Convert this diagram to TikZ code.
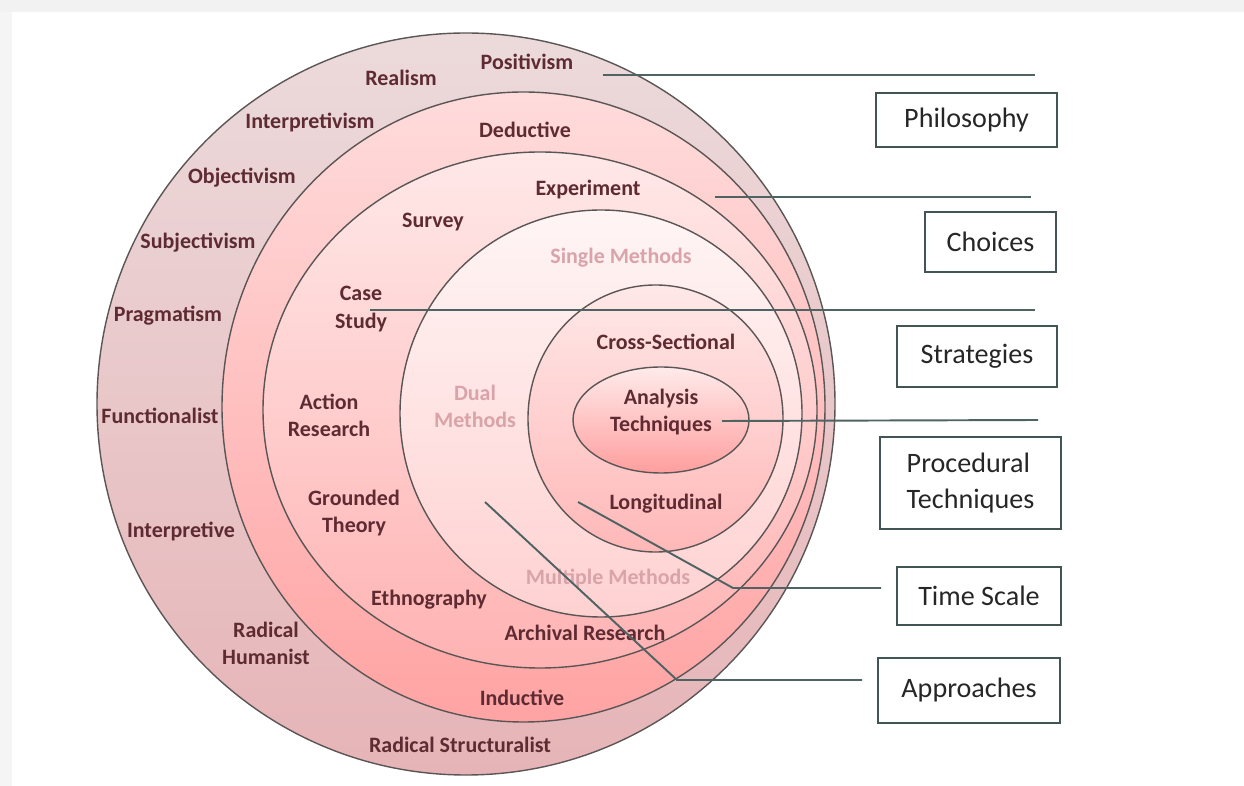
\documentclass[tikz,border=0pt]{standalone}
\usepackage{fontspec}
\setmainfont{Carlito}
\definecolor{ringtxt}{HTML}{5E2B33}
\definecolor{methtxt}{HTML}{D9A3AA}
\definecolor{edge}{HTML}{5B5656}
\definecolor{leadcol}{HTML}{4F6363}
\definecolor{philtop}{HTML}{ECDADB}
\definecolor{philbot}{HTML}{E6B4B7}

\begin{document}
\begin{tikzpicture}[x=0.02cm,y=-0.02cm,
    ring/.style={draw=edge,line width=0.8pt},
    lbl/.style={text=ringtxt,font=\bfseries\fontsize{12.5}{15.5}\selectfont,align=center,inner sep=0pt},
    methlbl/.style={lbl,text=methtxt},
    layerbox/.style={draw=leadcol!85!black,line width=1pt,inner sep=0pt,font=\fontsize{16}{21}\selectfont,text=black!85},
    leader/.style={draw=leadcol,line width=1.1pt}]
    \useasboundingbox(0,0)rectangle(1244,786);
    \fill[black!5](0,0)rectangle(1244,12);
    \fill[black!4](0,12)rectangle(12,786);

    % the onion, from outside in
    \draw[ring,top color=philtop,bottom color=philbot](466,404)ellipse[x radius=369,y radius=371];
    \draw[ring,top color=red!14,bottom color=red!36](523.5,407)ellipse[x radius=301.5,y radius=315];
    \draw[ring,top color=red!9,bottom color=red!30](540,410)ellipse[x radius=277,y radius=258];
    \draw[ring,top color=red!4,bottom color=red!18](601,413.5)ellipse[x radius=201,y radius=203.5];
    \draw[ring,top color=red!9,bottom color=red!28](655.5,418.5)ellipse[x radius=127.5,y radius=133.5];
    \draw[ring,top color=red!8,bottom color=red!38](661,420)ellipse[x radius=88,y radius=53];

    % philosophy ring
    \node[lbl](positivism)at(527,62){Positivism};
    \node[lbl](realism)at(401,78){Realism};
    \node[lbl](interpretivism)at(310,123){Interpretivism};
    \node[lbl](objectivism)at(242,178){Objectivism};
    \node[lbl](subjectivism)at(198,243){Subjectivism};
    \node[lbl](pragmatism)at(168,316){Pragmatism};
    \node[lbl](functionalist)at(160,416){Functionalist};
    \node[lbl](interpretive)at(181,532){Interpretive};
    \node[lbl](humanist)at(266,643){Radical\\Humanist};
    \node[lbl](structuralist)at(460,745){Radical Structuralist};
    % approaches
    \node[lbl](deductive)at(525,130){Deductive};
    \node[lbl](inductive)at(522,698){Inductive};
    % strategies
    \node[lbl](experiment)at(588,190){Experiment};
    \node[lbl](survey)at(433,222){Survey};
    \node[lbl](casestudy)at(361,309){Case\\Study};
    \node[lbl](action)at(329,415){Action\\Research};
    \node[lbl](grounded)at(354,513){Grounded\\Theory};
    \node[lbl](ethno)at(429,600){Ethnography};
    \node[lbl](archival)at(585,633){Archival Research};
    % choices
    \node[methlbl](single)at(621,258){Single Methods};
    \node[methlbl](dual)at(475,406){Dual\\Methods};
    \node[methlbl](multiple)at(608,579){Multiple Methods};
    % time horizons and core
    \node[lbl](cross)at(666,342){Cross-Sectional};
    \node[lbl](analysis)at(661,412){Analysis\\Techniques};
    \node[lbl](longit)at(666,504){Longitudinal};

    % layer names
    \node[layerbox,minimum width=3.62cm,minimum height=1.08cm](philo)at(966.5,120){Philosophy};
    \node[layerbox,minimum width=2.62cm,minimum height=1.2cm](choices)at(990.5,242){Choices};
    \node[layerbox,minimum width=3.2cm,minimum height=1.22cm](strat)at(977,356.5){Strategies};
    \node[layerbox,minimum width=3.62cm,minimum height=1.84cm,align=left](proc)at(970.5,483){Procedural\\Techniques};
    \node[layerbox,minimum width=3.28cm,minimum height=1.16cm](time)at(979,596){Time Scale};
    \node[layerbox,minimum width=3.64cm,minimum height=1.3cm](appr)at(969,690.5){Approaches};

    % leader lines
    \coordinate(philo-a)at(603,75);   \coordinate(philo-b)at(1035,75);
    \coordinate(choice-a)at(715,197); \coordinate(choice-b)at(1031,197);
    \coordinate(strat-a)at(370,310);  \coordinate(strat-b)at(1035,310);
    \coordinate(proc-a)at(722,421);   \coordinate(proc-b)at(1038,420);
    \coordinate(time-a)at(578,502);   \coordinate(time-k)at(733,588);  \coordinate(time-b)at(881,588);
    \coordinate(appr-a)at(485,502);   \coordinate(appr-k)at(677,680);  \coordinate(appr-b)at(862,680);
    \draw[leader](philo-a)--(philo-b);
    \draw[leader](choice-a)--(choice-b);
    \draw[leader](strat-a)--(strat-b);
    \draw[leader](proc-a)--(proc-b);
    \draw[leader](time-a)--(time-k)--(time-b);
    \draw[leader](appr-a)--(appr-k)--(appr-b);
\end{tikzpicture}
\end{document}
